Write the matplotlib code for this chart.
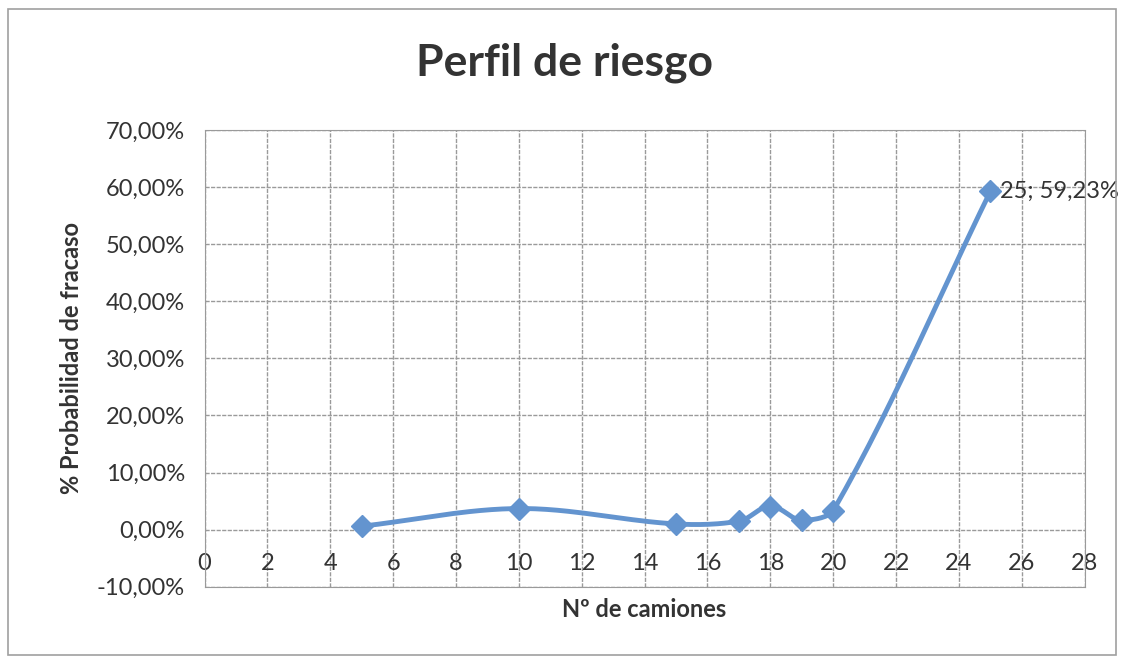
import numpy as np
import matplotlib.pyplot as plt
from matplotlib.patches import Rectangle

plt.rcParams['font.family'] = ['Lato', 'DejaVu Sans']

# datos del perfil de riesgo
camiones = [5, 10, 15, 17, 18, 19, 20, 25]
prob_fracaso = [0.6, 3.7, 1.0, 1.5, 4.0, 1.7, 3.3, 59.23]
x_ticks = list(range(0, 29, 2))
y_ticks = list(range(-10, 71, 10))
color_serie = '#6394cf'


def suavizar(xs, ys, n=30):
    # curva suavizada tipo Excel (Bezier por tramos, asas limitadas al tramo)
    p = np.column_stack([np.asarray(xs, float) / 28.0, np.asarray(ys, float) / 80.0])
    out = []
    for i in range(len(p) - 1):
        p0 = p[i - 1] if i > 0 else p[i]
        p1 = p[i]
        p2 = p[i + 1]
        p3 = p[i + 2] if i + 2 < len(p) else p[i + 1]
        L = np.linalg.norm(p2 - p1)
        d1 = p2 - p0
        d2 = p3 - p1
        c1 = p1 + d1 / np.linalg.norm(d1) * L / 3.0
        c2 = p2 - d2 / np.linalg.norm(d2) * L / 3.0
        t = np.linspace(0, 1, n)[:, None]
        seg = (1 - t)**3 * p1 + 3 * (1 - t)**2 * t * c1 + 3 * (1 - t) * t**2 * c2 + t**3 * p2
        out.append(seg if i == 0 else seg[1:])
    out = np.vstack(out)
    return out[:, 0] * 28.0, out[:, 1] * 80.0


fig = plt.figure(figsize=(11.24, 6.63), dpi=100)
ax = fig.add_axes([0.182, 0.115, 0.783, 0.689])

xs, ys = suavizar(camiones, prob_fracaso)
ax.plot(xs, ys, color=color_serie, lw=3.5, zorder=3)
ax.plot(camiones, prob_fracaso, linestyle='none', marker='D', ms=11,
        color=color_serie, zorder=4)

ax.annotate('25; 59,23%', (camiones[-1], prob_fracaso[-1]), xytext=(7, 0),
            textcoords='offset points', va='center', ha='left',
            fontsize=17, color='#333333', annotation_clip=False)

ax.set_xlim(0, 28)
ax.set_ylim(-10, 70)
ax.set_xticks(x_ticks)
ax.set_yticks(y_ticks)
ax.set_yticklabels([f'{v},00%' for v in y_ticks])
ax.grid(True, color='#9a9a9a', lw=1.0, linestyle=(0, (3, 1)))
ax.set_axisbelow(True)
for s in ax.spines.values():
    s.set_color('#9a9a9a')
    s.set_linestyle((0, (3, 1)))
ax.tick_params(axis='both', length=0, labelsize=17, colors='#333333')
ax.tick_params(axis='x', pad=-24)
ax.tick_params(axis='y', pad=14)

ax.set_xlabel('Nº de camiones', fontsize=17, fontweight='bold', color='#333333', labelpad=8)
ax.set_ylabel('% Probabilidad de fracaso', fontsize=17, fontweight='bold', color='#333333', labelpad=10)
fig.text(0.502, 0.905, 'Perfil de riesgo', ha='center', va='center',
         fontsize=32, fontweight='bold', color='#333333')

fig.patches.append(Rectangle((0.007, 0.012), 0.986, 0.975, transform=fig.transFigure,
                             fill=False, edgecolor='#a0a0a0', lw=1.2))

fig.savefig('out.png', dpi=100)
